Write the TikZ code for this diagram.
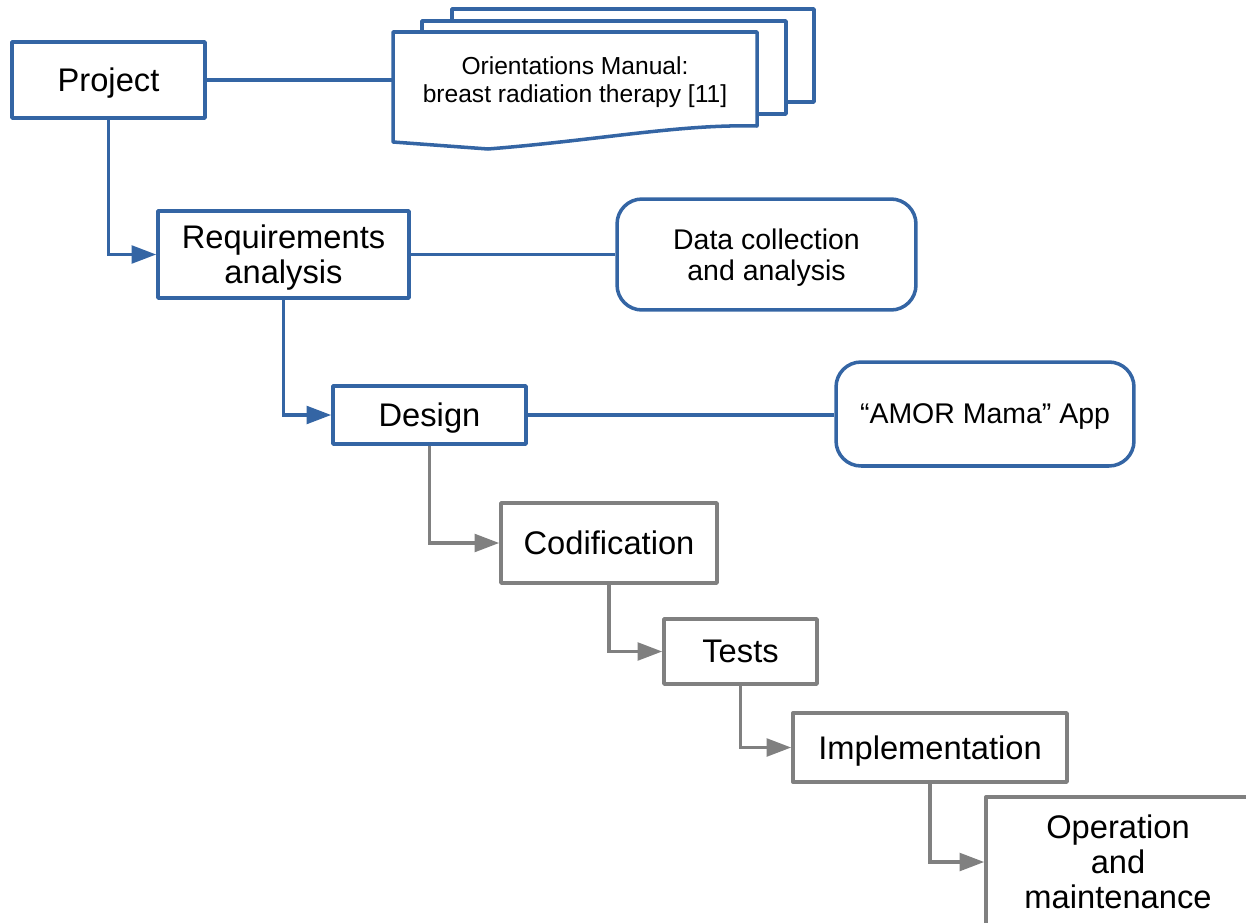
\documentclass[tikz,border=0pt]{standalone}
\usepackage{fontspec}
\setmainfont{Liberation Sans}
\usetikzlibrary{arrows.meta, positioning}
\definecolor{flowblue}{HTML}{3465A4}
\definecolor{flowgray}{HTML}{808080}

\begin{document}
\begin{tikzpicture}[x=0.02cm, y=-0.02cm,
        stage/.style={rectangle, draw=flowblue, line width=2pt, line join=round, fill=white, inner sep=0pt, text depth=0pt, align=center, font=\fontsize{18.6}{20}\selectfont},
        laterstage/.style={stage, draw=flowgray},
        outcome/.style={stage, rounded corners=0.5cm, font=\fontsize{16.2}{17.6}\selectfont},
        flow/.style={-{Triangle[length=14pt, width=10pt]}, line width=2pt, flowblue},
        laterflow/.style={flow, flowgray},
        link/.style={line width=2pt, line join=round, flowblue}
    ]
        \useasboundingbox (0,0) rectangle (1246,922);

        % Stacked manual pages
        \filldraw[link, fill=white] (452,9) rectangle (814,102);
        \filldraw[link, fill=white] (422,21) rectangle (786,114);
        \filldraw[link, fill=white] (393,32) -- (757,32) -- (757,126) .. controls (680,124) and (600,140) .. (488,149) -- (393,142) -- cycle;
        \node[align=center, inner sep=0pt, text depth=0pt, font=\fontsize{14}{16}\selectfont] (manual) at (575,80) {Orientations Manual:\\breast radiation therapy [11]};
        \coordinate (manualin) at (393,80);

        % Stages
        \node[stage, minimum width=3.86cm, minimum height=1.52cm] (project) at (108.5,80) {Project};
        \node[stage, minimum width=5.02cm, minimum height=1.74cm] (req) at (283.5,254.5) {Requirements\\analysis};
        \node[stage, minimum width=3.86cm, minimum height=1.16cm] (design) at (429.5,415) {Design};
        \node[laterstage, minimum width=4.32cm, minimum height=1.6cm] (codif) at (609,543) {Codification};
        \node[laterstage, minimum width=3.06cm, minimum height=1.3cm] (tests) at (740.5,651.5) {Tests};
        \node[laterstage, minimum width=5.48cm, minimum height=1.38cm] (impl) at (930,747.5) {Implementation};
        \node[laterstage, minimum width=5.28cm, minimum height=2.6cm] (oper) at (1118,862) {Operation\\and\\maintenance};

        % Outcomes
        \node[outcome, minimum width=5.98cm, minimum height=2.22cm] (data) at (766.5,254.5) {Data collection\\and analysis};
        \node[outcome, minimum width=5.96cm, minimum height=2.08cm] (app) at (985,414) {“AMOR Mama” App};

        % Links to outcomes
        \draw[link] (project.east) -- (manualin);
        \draw[link] (req.east) -- (req.east -| data.west);
        \draw[link] (design.east) -- (design.east -| app.west);

        % Cascade
        \draw[flow] (project.south) |- (req.west);
        \draw[flow] (req.south) |- (design.west);
        \draw[laterflow] (design.south) |- (codif.west);
        \draw[laterflow] (codif.south) |- (tests.west);
        \draw[laterflow] (tests.south) |- (impl.west);
        \draw[laterflow] (impl.south) |- (oper.west);
    \end{tikzpicture}
\end{document}
